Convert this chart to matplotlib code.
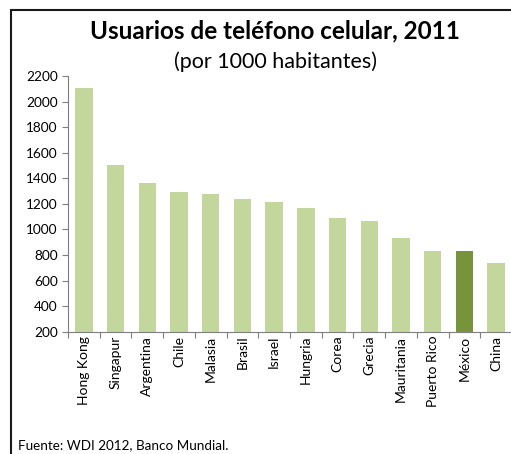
import numpy as np
import matplotlib
matplotlib.use("Agg")
import matplotlib.pyplot as plt
from matplotlib.patches import Rectangle

# datos: usuarios de teléfono celular por 1000 habitantes, 2011
paises = ["Hong Kong", "Singapur", "Argentina", "Chile", "Malasia", "Brasil",
          "Israel", "Hungria", "Corea", "Grecia", "Mauritania", "Puerto Rico",
          "México", "China"]
valores = [2105, 1500, 1360, 1295, 1280, 1235, 1215, 1170, 1090, 1062,
           935, 828, 828, 735]
resaltado = "México"

plt.rcParams['font.family'] = ['Lato', 'DejaVu Sans']

fig = plt.figure(figsize=(5.11, 4.54), dpi=100)
ax = fig.add_axes([68 / 511, (454 - 331.7) / 454, 444 / 511, (331.7 - 76) / 454])

x = np.arange(len(paises))
colores = ['#77933C' if p == resaltado else '#C3D69B' for p in paises]
ax.bar(x, valores, width=0.55, color=colores, bottom=0)

ax.set_xlim(-0.5, len(paises) - 0.5)
ax.set_ylim(200, 2200)
ax.set_yticks(range(200, 2201, 200))

# marcas en los bordes de cada categoría, etiquetas al centro
ax.set_xticks(np.arange(-0.5, len(paises), 1.0))
ax.set_xticklabels([])
ax.set_xticks(x, minor=True)
ax.set_xticklabels(paises, minor=True, rotation=90, fontsize=10)
ax.tick_params(axis='x', which='minor', length=0, pad=3)
ax.tick_params(axis='x', which='major', length=4, color='#7f7f7f')
ax.tick_params(axis='y', length=4, color='#7f7f7f', labelsize=9.8)

for s in ['top', 'right']:
    ax.spines[s].set_visible(False)
for s in ['left', 'bottom']:
    ax.spines[s].set_color('#7f7f7f')

fig.text(275 / 511, 1 - 31 / 454, "Usuarios de teléfono celular, 2011",
         ha='center', va='center', fontsize=17.5, fontweight='bold')
fig.text(275 / 511, 1 - 62 / 454, "(por 1000 habitantes)",
         ha='center', va='center', fontsize=15.5)
fig.text(18 / 511, 9 / 454, "Fuente: WDI 2012, Banco Mundial.",
         ha='left', va='center', fontsize=9.7)

# marco del gráfico
fig.add_artist(Rectangle((10.5 / 511, -0.1), 1.2, 1.1 - 10.5 / 454,
                         transform=fig.transFigure, fill=False,
                         edgecolor='#1a1a1a', linewidth=1.5))

fig.savefig("out.png", dpi=100)
